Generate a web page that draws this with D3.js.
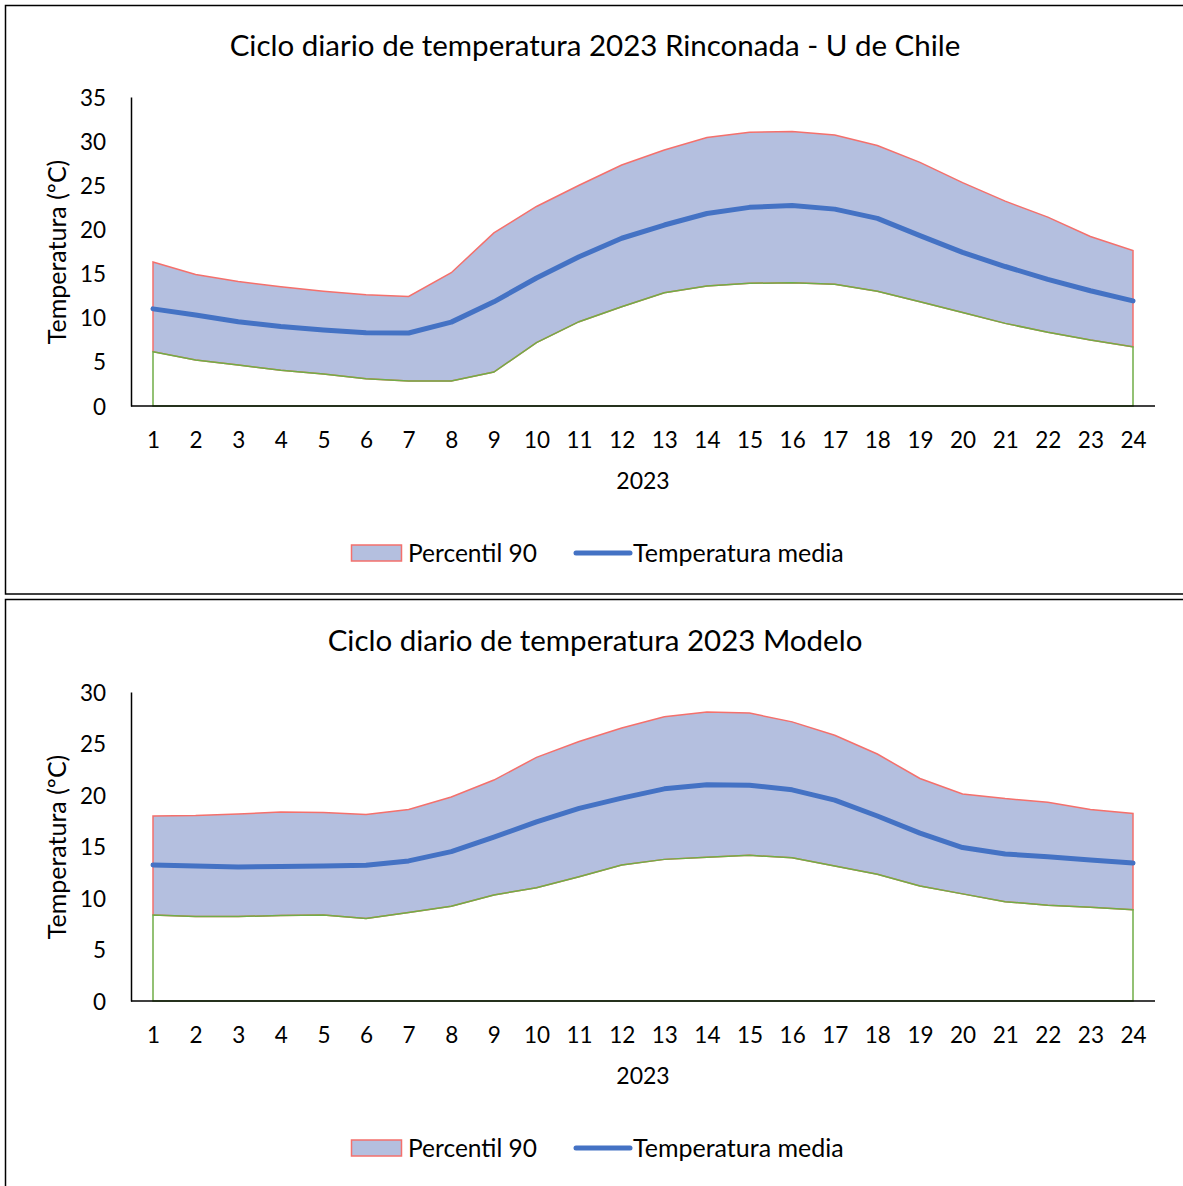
<!DOCTYPE html>
<html>
<head>
<meta charset="utf-8">
<script src="https://cdn.jsdelivr.net/npm/d3@7"></script>
<style>
  body { margin: 0; background: #fff; }
  text { font-family: Lato, "Noto Sans", sans-serif; fill: #000; }
</style>
</head>
<body>
<svg id="chart" width="1183" height="1186"></svg>
<script>
const hours = d3.range(1, 25);

// Rinconada - U de Chile
const rinP90 = [16.3, 14.9, 14.1, 13.5, 13.0, 12.6, 12.4, 15.1, 19.6, 22.6, 25.0, 27.3,
  29.0, 30.4, 31.0, 31.1, 30.7, 29.5, 27.6, 25.3, 23.2, 21.4, 19.2, 17.6];
const rinMean = [11.0, 10.3, 9.55, 9.0, 8.6, 8.3, 8.27, 9.5, 11.8, 14.5, 16.9, 19.0,
  20.5, 21.8, 22.5, 22.7, 22.3, 21.25, 19.3, 17.4, 15.8, 14.35, 13.05, 11.9];
const rinP10 = [6.15, 5.2, 4.64, 4.04, 3.62, 3.1, 2.83, 2.83, 3.85, 7.17, 9.55, 11.25,
  12.83, 13.6, 13.9, 13.96, 13.8, 13.0, 11.8, 10.6, 9.36, 8.35, 7.47, 6.7];

// Modelo
const modP90 = [17.96, 18.0, 18.15, 18.35, 18.3, 18.1, 18.6, 19.8, 21.45, 23.65, 25.2, 26.5,
  27.6, 28.05, 27.95, 27.1, 25.8, 23.98, 21.6, 20.1, 19.65, 19.3, 18.6, 18.2];
const modMean = [13.2, 13.1, 13.0, 13.07, 13.1, 13.17, 13.6, 14.5, 15.9, 17.4, 18.7, 19.7,
  20.6, 21.0, 20.95, 20.5, 19.5, 17.96, 16.3, 14.9, 14.27, 14.0, 13.7, 13.4];
const modP10 = [8.35, 8.2, 8.2, 8.3, 8.35, 8.0, 8.6, 9.2, 10.3, 11.0, 12.07, 13.2,
  13.75, 13.95, 14.15, 13.9, 13.1, 12.3, 11.17, 10.4, 9.64, 9.3, 9.1, 8.86];

const rinTicks = [0, 5, 10, 15, 20, 25, 30, 35];
const modTicks = [0, 5, 10, 15, 20, 25, 30];

const fillColor = "#b4bfdf";
const upperColor = "#f4706c";
const lowerColor = "#70ad47";
const meanColor = "#4472c4";

const svg = d3.select("#chart");

// outer frames
svg.append("rect").attr("x", 5.5).attr("y", 5.5).attr("width", 1190).attr("height", 588.5)
  .attr("fill", "none").attr("stroke", "#000").attr("stroke-width", 1.5);
svg.append("rect").attr("x", 5.5).attr("y", 599.5).attr("width", 1190).attr("height", 600)
  .attr("fill", "none").attr("stroke", "#000").attr("stroke-width", 1.5);

const drawChart = (top, title, p90, mean, p10, ticks) => {
  const g = svg.append("g").attr("transform", `translate(0,${top})`);
  const plotTop = 97, plotBottom = 406;

  const x = d3.scalePoint().domain(hours).range([153, 1133]);
  const y = d3.scaleLinear().domain([0, d3.max(ticks)]).range([plotBottom, plotTop]);

  const rows = hours.map((h, i) => ({ h, hi: p90[i], mid: mean[i], lo: p10[i] }));

  // band between p10 and p90
  const band = d3.area()
    .x(d => x(d.h))
    .y0(d => y(d.lo))
    .y1(d => y(d.hi));
  g.append("path").datum(rows)
    .attr("d", band(rows) + "Z")
    .attr("fill", fillColor)
    .attr("stroke", upperColor)
    .attr("stroke-width", 1.5);

  // lower area outline
  const lowArea = d3.area()
    .x(d => x(d.h))
    .y0(y(0))
    .y1(d => y(d.lo));
  g.append("path").datum(rows)
    .attr("d", lowArea(rows) + "Z")
    .attr("fill", "none")
    .attr("stroke", lowerColor)
    .attr("stroke-width", 1.5);

  // mean line
  g.append("path").datum(rows)
    .attr("d", d3.line().x(d => x(d.h)).y(d => y(d.mid)))
    .attr("fill", "none")
    .attr("stroke", meanColor)
    .attr("stroke-width", 5)
    .attr("stroke-linecap", "round")
    .attr("stroke-linejoin", "round");

  // axes
  const yAxis = g.append("g")
    .attr("transform", "translate(131,0)")
    .call(d3.axisLeft(y).tickValues(ticks).tickSize(0).tickPadding(25));
  yAxis.select(".domain").attr("stroke", "#000").attr("stroke-width", 1.5);
  yAxis.selectAll(".tick text").style("font-size", "22.5px").attr("dy", "0.36em");

  const xAxis = g.append("g")
    .attr("transform", `translate(0,${plotBottom})`)
    .call(d3.axisBottom(x).tickSize(0).tickPadding(26));
  xAxis.select(".domain").attr("d", "M131,0H1155").attr("stroke", "#000").attr("stroke-width", 1.5);
  xAxis.selectAll(".tick text").style("font-size", "22.5px");

  g.append("text")
    .attr("x", 595).attr("y", 45).attr("dy", "0.36em")
    .attr("text-anchor", "middle")
    .style("font-size", "29.5px")
    .text(title);

  g.append("text")
    .attr("x", 643).attr("y", 481).attr("dy", "0.36em")
    .attr("text-anchor", "middle")
    .style("font-size", "23px")
    .text("2023");

  g.append("text")
    .attr("transform", "translate(57,252) rotate(-90)")
    .attr("dy", "0.36em")
    .attr("text-anchor", "middle")
    .style("font-size", "25px")
    .text("Temperatura (ºC)");

  // legend
  const lg = g.append("g").attr("transform", "translate(0,553)");
  lg.append("rect").attr("x", 351.5).attr("y", -8).attr("width", 50).attr("height", 16)
    .attr("fill", fillColor).attr("stroke", upperColor).attr("stroke-width", 1.5);
  lg.append("text").attr("x", 408).attr("y", 0).attr("dy", "0.36em")
    .style("font-size", "24.5px").text("Percentil 90");
  lg.append("line").attr("x1", 576).attr("x2", 630).attr("y1", 0).attr("y2", 0)
    .attr("stroke", meanColor).attr("stroke-width", 5).attr("stroke-linecap", "round");
  lg.append("text").attr("x", 633).attr("y", 0).attr("dy", "0.36em")
    .style("font-size", "25px").text("Temperatura media");
};

drawChart(0, "Ciclo diario de temperatura 2023 Rinconada - U de Chile", rinP90, rinMean, rinP10, rinTicks);
drawChart(595, "Ciclo diario de temperatura 2023 Modelo", modP90, modMean, modP10, modTicks);
</script>
</body>
</html>
